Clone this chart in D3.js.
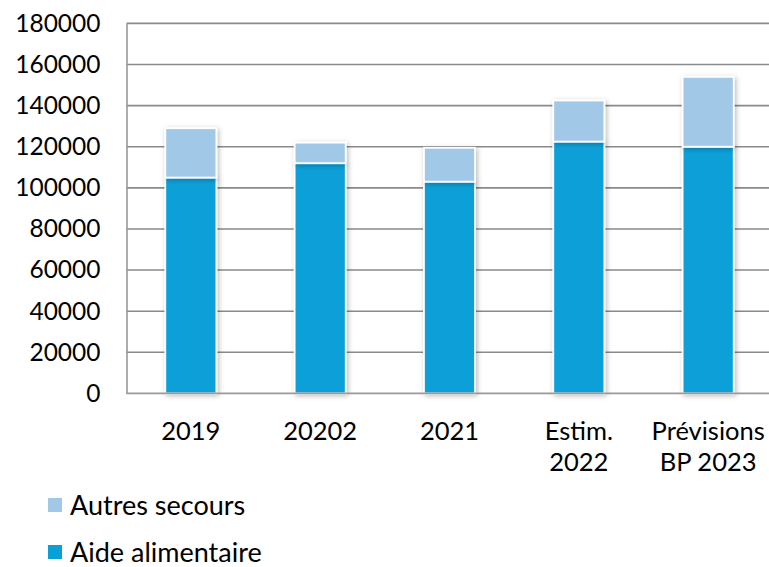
<!DOCTYPE html>
<html>
<head>
<meta charset="utf-8">
<script src="https://cdn.jsdelivr.net/npm/d3@7"></script>
<style>
  html, body { margin: 0; padding: 0; background: #fff; }
  svg { display: block; font-family: Lato, "Open Sans", sans-serif; }
</style>
</head>
<body>
<svg id="chart" width="769" height="567"></svg>
<script>
// Budget lines per year (stacked)
const categories = [["2019"], ["20202"], ["2021"], ["Estim.", "2022"], ["Prévisions", "BP 2023"]];
const aideAlimentaire = [105000, 112000, 103000, 122500, 120000];
const autresSecours = [24000, 10000, 16500, 20000, 34000];
const yTicks = [0, 20000, 40000, 60000, 80000, 100000, 120000, 140000, 160000, 180000];
const seriesNames = ["Aide alimentaire", "Autres secours"];
const seriesColors = ["#09a0d8", "#a2c8e8"];

const svg = d3.select("#chart");
const margin = { left: 126.5, top: 23.4, right: -3.5, bottom: 173.6 };
const W = 769, H = 567;
const plotW = W - margin.left - margin.right;
const plotH = H - margin.top - margin.bottom;

const keys = categories.map(c => c.join(" "));
const x = d3.scaleBand().domain(keys).range([margin.left, margin.left + plotW]).paddingInner(0.605).paddingOuter(0.3);
const y = d3.scaleLinear().domain([0, 180000]).range([margin.top + plotH, margin.top]);

const defs = svg.append("defs");
const f = defs.append("filter").attr("id", "shadow").attr("x", "-30%").attr("y", "-30%").attr("width", "160%").attr("height", "160%");
f.append("feDropShadow").attr("dx", 1.5).attr("dy", 1.5).attr("stdDeviation", 2.5).attr("flood-color", "#000").attr("flood-opacity", 0.28);

// gridlines
svg.append("g").selectAll("line").data(yTicks.filter(t => t > 0)).join("line")
  .attr("x1", margin.left).attr("x2", W)
  .attr("y1", d => y(d)).attr("y2", d => y(d))
  .attr("stroke", "#8a8a8a").attr("stroke-width", 1.6);

// y axis
const yAxis = d3.axisLeft(y).tickValues(yTicks).tickSize(0).tickPadding(26).tickFormat(d3.format("d"));
const gy = svg.append("g").attr("transform", `translate(${margin.left},0)`).call(yAxis);
gy.select(".domain").attr("stroke", "#999").attr("stroke-width", 1.6);
gy.selectAll("text").attr("font-size", 24.5).attr("fill", "#000").attr("font-family", "Lato, sans-serif");

// stacked bars
const stackData = categories.map((c, i) => ({ key: keys[i], a: aideAlimentaire[i], b: autresSecours[i] }));
const stack = d3.stack().keys(["a", "b"])(stackData);
const bars = svg.append("g");
stack.forEach((layer, li) => {
  bars.append("g").selectAll("rect").data(layer).join("rect")
    .attr("x", d => x(d.data.key))
    .attr("width", x.bandwidth())
    .attr("y", d => y(d[1]))
    .attr("height", d => y(d[0]) - y(d[1]))
    .attr("fill", seriesColors[li])
    .attr("stroke", "#fff").attr("stroke-width", 1.8)
    .attr("filter", "url(#shadow)");
});

// x axis baseline
svg.append("line").attr("x1", margin.left).attr("x2", W)
  .attr("y1", y(0)).attr("y2", y(0)).attr("stroke", "#999").attr("stroke-width", 1.6);

// category labels
const xl = svg.append("g");
categories.forEach((lines, i) => {
  const cx = x(keys[i]) + x.bandwidth() / 2;
  const t = xl.append("text").attr("text-anchor", "middle")
    .attr("font-size", 25.5).attr("fill", "#000")
    .attr("x", cx).attr("y", 440);
  lines.forEach((ln, j) => t.append("tspan").attr("x", cx).attr("dy", j === 0 ? 0 : 31).text(ln));
});

// legend
const legend = [ { name: seriesNames[1], color: seriesColors[1] }, { name: seriesNames[0], color: seriesColors[0] } ];
const lg = svg.append("g");
legend.forEach((d, i) => {
  const cy = 505 + i * 47;
  lg.append("rect").attr("x", 48).attr("y", cy - 7).attr("width", 14).attr("height", 14).attr("fill", d.color);
  lg.append("text").attr("x", 70).attr("y", cy + 10).attr("font-size", 27).attr("fill", "#000").text(d.name);
});
</script>
</body>
</html>
